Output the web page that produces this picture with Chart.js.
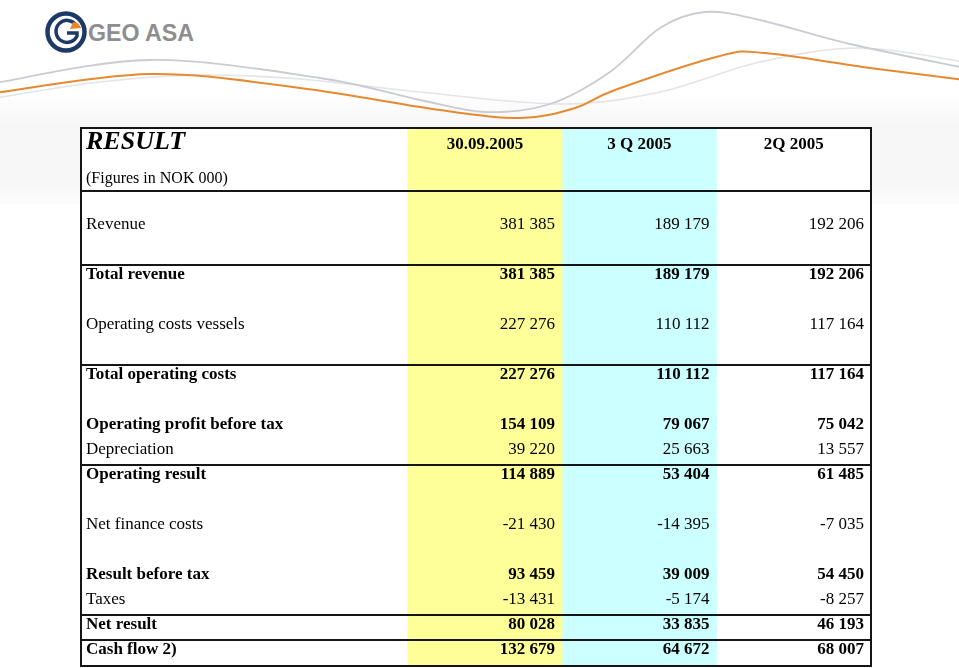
<!DOCTYPE html>
<html>
<head>
<meta charset="utf-8">
<script src="https://cdn.jsdelivr.net/npm/chart.js@4"></script>
<style>
  html, body { margin: 0; padding: 0; background: #fff; }
  #page { position: relative; width: 959px; height: 668px; overflow: hidden; }
  #band { position: absolute; left: 0; top: 92px; width: 959px; height: 112px;
          background: linear-gradient(#fff, #f7f7f7 30%, #f7f7f7 80%, #fcfcfc); }
  #deco { position: absolute; left: 0; top: 0; }
  #salesTable { position: absolute; left: 0; top: 0; }
</style>
</head>
<body>
<div id="page">
  <div id="band"></div>
  <svg id="deco" width="959" height="130" xmlns="http://www.w3.org/2000/svg">
    <g id="swoosh" fill="none" stroke-linecap="round"></g>
    <circle cx="66" cy="32" r="18.5" fill="#fff" stroke="#1d3a66" stroke-width="4.5"/>
    <path d="M 76 25 A 11 11 0 1 0 77 36 L 77 33 L 67 33" fill="none" stroke="#1d3a66" stroke-width="3.5"/>
    <path d="M 70 29 L 73 22 Q 79 22 81 28 Z" fill="#e8862a"/>
    <text x="88" y="41" font-family="Liberation Sans, Arial, sans-serif" font-weight="bold"
          font-size="24" fill="#8e8e8e" textLength="106" lengthAdjust="spacingAndGlyphs">GEO ASA</text>
  </svg>
  <canvas id="salesTable" width="959" height="668"></canvas>
</div>
<script>
// table content
const title = "RESULT";
const subtitle = "(Figures in NOK 000)";
const periods = ["30.09.2005", "3 Q 2005", "2Q 2005"];

// blank strings are the empty spreadsheet rows
const rowLabels = [
  "Revenue", "", "Total revenue", "", "Operating costs vessels", "",
  "Total operating costs", "", "Operating profit before tax", "Depreciation",
  "Operating result", "", "Net finance costs", "", "Result before tax",
  "Taxes", "Net result", "Cash flow 2)"
];
const ytd2005 = [381385, null, 381385, null, 227276, null, 227276, null, 154109, 39220, 114889, null, -21430, null, 93459, -13431, 80028, 132679];
const q3_2005 = [189179, null, 189179, null, 110112, null, 110112, null, 79067, 25663, 53404, null, -14395, null, 39009, -5174, 33835, 64672];
const q2_2005 = [192206, null, 192206, null, 117164, null, 117164, null, 75042, 13557, 61485, null, -7035, null, 54450, -8257, 46193, 68007];

const boldRows = ["Total revenue", "Total operating costs", "Operating profit before tax",
  "Operating result", "Result before tax", "Net result", "Cash flow 2)"];
const ruledRows = ["Total revenue", "Total operating costs", "Operating result", "Net result", "Cash flow 2)"];

const columns = [ytd2005, q3_2005, q2_2005];
const fills = ["#ffff99", "#ccffff", "#ffffff"];
const serif = "'Liberation Serif', 'Times New Roman', serif";

// background swooshes
function smoothPath(pts) {
  let d = `M ${pts[0][0]} ${pts[0][1]}`;
  for (let i = 0; i < pts.length - 1; i++) {
    const p0 = pts[i - 1] || pts[i], p1 = pts[i], p2 = pts[i + 1], p3 = pts[i + 2] || p2;
    const c1 = [p1[0] + (p2[0] - p0[0]) / 6, p1[1] + (p2[1] - p0[1]) / 6];
    const c2 = [p2[0] - (p3[0] - p1[0]) / 6, p2[1] - (p3[1] - p1[1]) / 6];
    d += ` C ${c1[0]} ${c1[1]} ${c2[0]} ${c2[1]} ${p2[0]} ${p2[1]}`;
  }
  return d;
}
const swooshes = [
  { c: "#e2e4e8", w: 1.6, p: [[-5,98],[100,82],[200,75],[300,79],[420,92],[560,104],[660,92],[760,62],[860,48],[965,62]] },
  { c: "#c9ccd2", w: 1.8, p: [[-5,83],[150,60],[320,78],[420,100],[485,112],[550,104],[610,72],[660,28],[705,12],[760,20],[850,44],[965,68]] },
  { c: "#e58a30", w: 2, p: [[-5,93],[150,74],[300,88],[440,110],[520,118],[575,108],[615,90],[720,56],[765,53],[870,68],[965,80]] }
];
const swooshGroup = document.getElementById("swoosh");
swooshes.forEach(s => {
  const el = document.createElementNS("http://www.w3.org/2000/svg", "path");
  el.setAttribute("d", smoothPath(s.p));
  el.setAttribute("stroke", s.c);
  el.setAttribute("stroke-width", s.w);
  swooshGroup.appendChild(el);
});

function fmt(n) {
  const s = String(Math.abs(n)).replace(/\B(?=(\d{3})+(?!\d))/g, " ");
  return (n < 0 ? "-" : "") + s;
}

// draws the cells of the table through the chart scales
const tablePlugin = {
  id: "tableCells",
  beforeDatasetsDraw(chart) {
    const { ctx, chartArea: a } = chart;
    ctx.save();
    ctx.fillStyle = "#fff";
    ctx.fillRect(a.left, a.top, a.width, a.height);
    ctx.restore();
  },
  afterDatasetsDraw(chart) {
    const { ctx, chartArea: a, scales } = chart;
    const x = scales.x, rows = scales.rows;
    const base = k => rows.getPixelForValue(k) + 6;
    ctx.save();

    // rules
    ctx.strokeStyle = "#151515";
    ctx.lineWidth = 2;
    const rule = k => {
      const y = Math.round(rows.getPixelForValue(k));
      ctx.beginPath();
      ctx.moveTo(a.left, y);
      ctx.lineTo(a.right, y);
      ctx.stroke();
    };
    rule(-1.3);
    rowLabels.forEach((l, i) => { if (ruledRows.includes(l)) rule(i - 0.33); });
    ctx.strokeRect(a.left, a.top, a.width, a.height);

    // header
    ctx.fillStyle = "#000";
    ctx.textBaseline = "alphabetic";
    const left = x.getPixelForValue(x.min) + 5;
    ctx.textAlign = "left";
    ctx.font = `italic bold 26px ${serif}`;
    ctx.fillText(title, left, base(-3.2));
    ctx.font = `16px ${serif}`;
    ctx.fillText(subtitle, left, base(-1.85));
    ctx.textAlign = "center";
    ctx.font = `bold 17px ${serif}`;
    periods.forEach((p, j) => {
      ctx.fillText(p, x.getPixelForValue(j + 0.5), base(-3.2));
    });

    // body
    rowLabels.forEach((label, i) => {
      if (!label) return;
      const y = base(i);
      ctx.font = `${boldRows.includes(label) ? "bold " : ""}17px ${serif}`;
      ctx.textAlign = "left";
      ctx.fillText(label, left, y);
      ctx.textAlign = "right";
      columns.forEach((col, j) => {
        if (col[i] == null) return;
        ctx.fillText(fmt(col[i]), x.getPixelForValue(j + 1) - 7, y);
      });
    });
    ctx.restore();
  }
};

const chart = new Chart(document.getElementById("salesTable"), {
  type: "bar",
  data: {
    labels: ["table"],
    datasets: periods.map((p, j) => ({
      label: p,
      data: [[j, j + 1]],
      backgroundColor: fills[j],
      borderWidth: 0,
      grouped: false,
      barPercentage: 1,
      categoryPercentage: 1
    }))
  },
  options: {
    indexAxis: "y",
    responsive: false,
    animation: false,
    layout: { padding: { left: 81, right: 88, top: 128, bottom: 2 } },
    plugins: { legend: { display: false }, tooltip: { enabled: false } },
    scales: {
      x: { type: "linear", min: -2.115, max: 3, offset: false, display: false },
      y: { type: "category", display: false },
      rows: { type: "linear", axis: "y", position: "left", reverse: true, offset: false,
              min: -3.8, max: 17.72, display: false }
    }
  },
  plugins: [tablePlugin]
});
</script>
</body>
</html>
